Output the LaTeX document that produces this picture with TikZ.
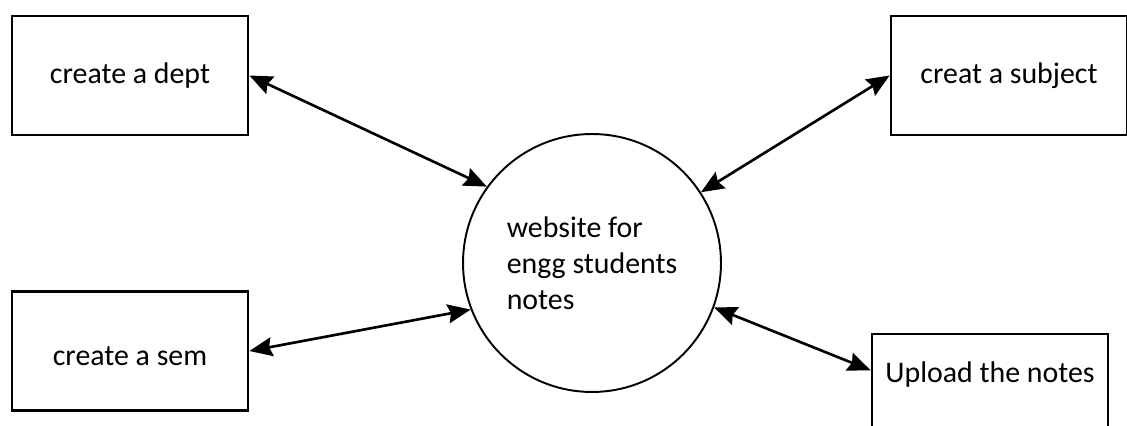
\documentclass[tikz,border=0pt]{standalone}
\usepackage{fontspec}
\setmainfont{Carlito}
\usetikzlibrary{arrows.meta}
\tikzset{
  procbox/.style={draw, line width=1.6pt, minimum width=4.72cm, minimum height=2.38cm, inner sep=0pt, font=\fontsize{17}{20.5}\selectfont},
  proccircle/.style={draw, circle, line width=1.1pt, minimum size=5.16cm, inner sep=0pt, align=left, font=\fontsize{17}{20.5}\selectfont},
  flow/.style={line width=1.5pt, {Stealth[length=0.46cm,width=0.38cm,inset=0.06cm]}-{Stealth[length=0.46cm,width=0.38cm,inset=0.06cm]}}
}

\begin{document}
\begin{tikzpicture}[x=0.02cm,y=-0.02cm]
\useasboundingbox (0,0) rectangle (1127,426);
\clip (0,0) rectangle (1127,426);
\node[proccircle] (web) at (592,263) {website for\\engg students\\notes};
\node[procbox] (dept) at (130,75.5) {create a dept};
\node[procbox, text height=0.6cm, text depth=0cm] (sem) at (130,351) {create a sem};
\node[procbox] (subj) at (1009,75.5) {creat a subject};
\node[procbox, text height=0.45cm, text depth=0.9cm] (notes) at (990,393.5) {Upload the notes};
\draw[flow] (dept.east) -- (web.144);
\draw[flow] (subj.west) -- (web.33);
\draw[flow] (sem.east) -- (web.201);
\draw[flow] (notes.169) -- (web.340);
\end{tikzpicture}
\end{document}
